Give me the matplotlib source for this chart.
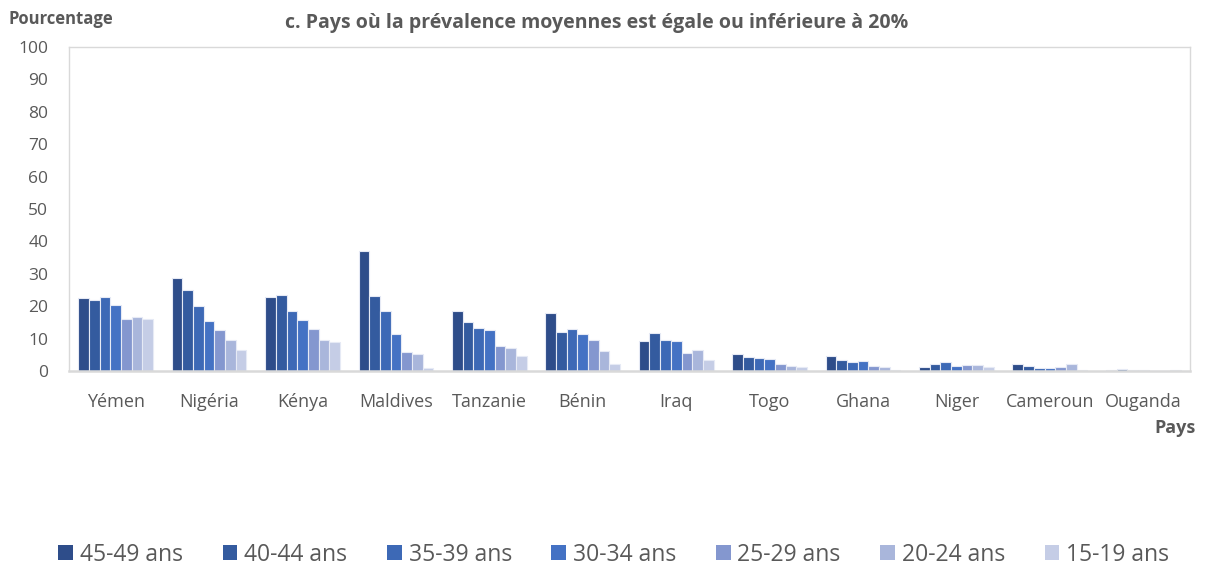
import matplotlib
matplotlib.use("Agg")
import matplotlib.pyplot as plt
import numpy as np

plt.rcParams['font.family'] = ['Open Sans', 'DejaVu Sans']

# Données (prévalence en %)
pays = ["Yémen", "Nigéria", "Kénya", "Maldives", "Tanzanie", "Bénin",
        "Iraq", "Togo", "Ghana", "Niger", "Cameroun", "Ouganda"]
groupes = ["45-49 ans", "40-44 ans", "35-39 ans", "30-34 ans",
           "25-29 ans", "20-24 ans", "15-19 ans"]

age_45_49 = [22.6, 28.8, 22.8, 37.1, 18.4, 17.9, 9.2, 5.1, 4.6, 1.2, 2.2, 0.3]
age_40_44 = [21.9, 24.9, 23.6, 23.1, 15.1, 12.1, 11.7, 4.4, 3.3, 2.1, 1.5, 0.6]
age_35_39 = [22.9, 20.0, 18.4, 18.5, 13.2, 12.9, 9.5, 3.9, 2.8, 2.8, 0.9, 0.4]
age_30_34 = [20.3, 15.3, 15.8, 11.3, 12.6, 11.3, 9.1, 3.6, 3.0, 1.5, 0.8, 0.4]
age_25_29 = [16.1, 12.6, 12.9, 5.8, 7.8, 9.5, 5.6, 2.2, 1.5, 1.8, 1.3, 0.1]
age_20_24 = [16.6, 9.6, 9.6, 5.2, 7.1, 6.1, 6.5, 1.6, 1.2, 1.9, 2.3, 0.1]
age_15_19 = [16.1, 6.5, 8.8, 0.8, 4.5, 2.2, 3.3, 1.2, 0.3, 1.2, 0.3, 0.2]

series = [age_45_49, age_40_44, age_35_39, age_30_34, age_25_29, age_20_24, age_15_19]
couleurs = ["#2E4D8A", "#345B9F", "#3D69B6", "#4472C4", "#8497CF", "#A9B6DB", "#C5CDE6"]

fig = plt.figure(figsize=(12.06, 5.65), dpi=100)
ax = fig.add_axes([0.0572, 0.3434, 0.9295, 0.5735])

x = np.arange(len(pays))
largeur = 0.8 / len(series)
for i, (vals, c) in enumerate(zip(series, couleurs)):
    ax.bar(x - 0.4 + largeur * (i + 0.5), vals, width=largeur, color=c,
           edgecolor="#E6EAF5", linewidth=0.8, label=groupes[i])

ax.set_xlim(-0.5, len(pays) - 0.5)
ax.set_ylim(0, 100)
ax.set_yticks(range(0, 101, 10))
ax.set_xticks(x)
ax.set_xticklabels(pays, fontsize=13)
ax.tick_params(axis="both", length=0, colors="#595959")
ax.tick_params(axis="y", pad=15, labelsize=12.5)
ax.tick_params(axis="x", pad=16)

for s in ["top", "right", "left"]:
    ax.spines[s].set_color("#D9D9D9")
    ax.spines[s].set_linewidth(1.0)
ax.spines["bottom"].set_color("#D9D9D9")
ax.spines["bottom"].set_linewidth(1.8)

fig.text(0.495, 0.960, "c. Pays où la prévalence moyennes est égale ou inférieure à 20%",
         ha="center", va="center", fontsize=14, fontweight="bold", color="#595959")
fig.text(0.007, 0.966, "Pourcentage", ha="left", va="center", fontsize=12,
         fontweight="bold", color="#595959")
fig.text(0.991, 0.2425, "Pays", ha="right", va="center", fontsize=13,
         fontweight="bold", color="#595959")

leg = fig.legend(loc="center", bbox_to_anchor=(0.509, 0.018), ncol=7, frameon=False,
                 fontsize=16.5, handlelength=0.65, handleheight=0.65, handletextpad=0.3,
                 columnspacing=1.72)
for t in leg.get_texts():
    t.set_color("#595959")
for h in leg.legend_handles:
    h.set_edgecolor("none")

fig.savefig("out.png", dpi=100)
